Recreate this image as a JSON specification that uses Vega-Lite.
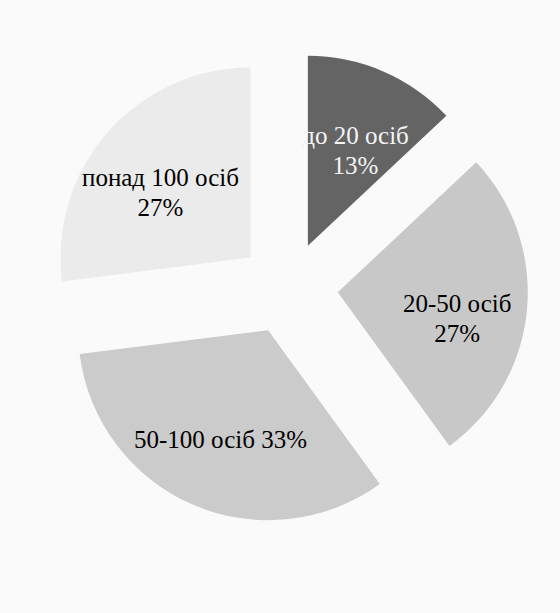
{
  "$schema": "https://vega.github.io/schema/vega-lite/v6.json",
  "width": 560,
  "height": 613,
  "autosize": {"type": "fit", "contains": "padding"},
  "padding": {"left": 16, "top": 0, "right": 0, "bottom": 37},
  "background": "#fafafa",
  "view": {"stroke": null},
  "data": {
    "values": [
      {"category": "до 20 осіб", "value": 13, "order": 1},
      {"category": "20-50 осіб", "value": 27, "order": 2},
      {"category": "50-100 осіб", "value": 33, "order": 3},
      {"category": "понад 100 осіб", "value": 27, "order": 4}
    ]
  },
  "transform": [
    {"window": [{"op": "sum", "field": "value", "as": "cum"}], "sort": [{"field": "order"}], "frame": [null, 0]},
    {"calculate": "(datum.cum - datum.value / 2) / 100 * 2 * PI", "as": "mid"},
    {"calculate": "datum.category === '50-100 осіб' ? datum.category + ' ' + datum.value + '%' : [datum.category, datum.value + '%']", "as": "label"}
  ],
  "encoding": {
    "theta": {"field": "value", "type": "quantitative", "stack": true},
    "order": {"field": "order", "type": "quantitative"}
  },
  "layer": [
    {
      "mark": {
        "type": "arc",
        "radius": 190,
        "xOffset": {"expr": "50 * sin(datum.mid)"},
        "yOffset": {"expr": "-46 * cos(datum.mid)"}
      },
      "encoding": {
        "color": {
          "field": "category",
          "type": "nominal",
          "scale": {
            "domain": ["до 20 осіб", "20-50 осіб", "50-100 осіб", "понад 100 осіб"],
            "range": ["#646464", "#c8c8c8", "#cbcbcb", "#ebebeb"]
          },
          "legend": null
        }
      }
    },
    {
      "mark": {
        "type": "text",
        "radius": 120,
        "font": "Liberation Serif",
        "fontSize": 25,
        "lineHeight": 30,
        "xOffset": {"expr": "50 * sin(datum.mid)"},
        "yOffset": {"expr": "-46 * cos(datum.mid)"}
      },
      "encoding": {
        "text": {"field": "label"},
        "color": {
          "condition": {"test": "datum.category === 'до 20 осіб'", "value": "#f4f4f4"},
          "value": "#000000"
        }
      }
    }
  ]
}
